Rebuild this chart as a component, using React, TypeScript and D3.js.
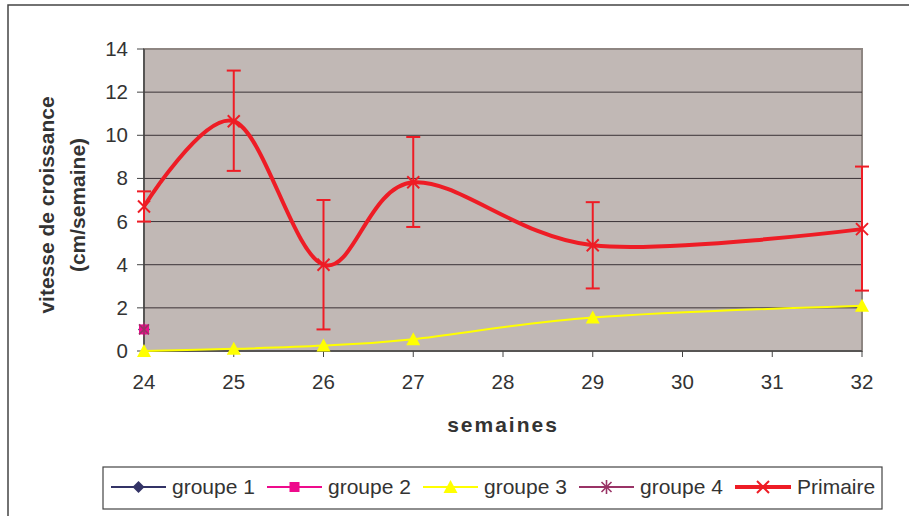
import React from "react";
import * as d3 from "d3";

const weekTicks = [24, 25, 26, 27, 28, 29, 30, 31, 32];
const yTicks = [0, 2, 4, 6, 8, 10, 12, 14];
const dataWeeks = [24, 25, 26, 27, 29, 32];
const primaire = [6.7, 10.65, 4.0, 7.82, 4.9, 5.65];
const errLow = [6.0, 8.35, 1.0, 5.75, 2.9, 2.8];
const errHigh = [7.4, 13.0, 7.0, 9.92, 6.9, 8.55];
const groupe3 = [0, 0.1, 0.25, 0.55, 1.55, 2.1];
const groupe1 = [1.0];
const groupe2 = [1.0];
const groupe4 = [1.0];
const legendLabels = ["groupe 1", "groupe 2", "groupe 3", "groupe 4", "Primaire"];

const W = 909;
const H = 516;
const PL = 144, PR = 862, PT = 49, PB = 351;
const TXT = "#333333";
const FONT = "'Liberation Sans', Arial, sans-serif";
const RED = "#ee1c25";
const YEL = "#ffff00";
const NAVY = "#333366";
const MAG = "#ee0a8c";
const PUR = "#993366";

function Marker({ kind, x, y }: { kind: string; x: number; y: number }) {
  if (kind === "diamond")
    return <path d={`M${x},${y - 6}L${x + 6},${y}L${x},${y + 6}L${x - 6},${y}Z`} fill={NAVY} />;
  if (kind === "square")
    return <rect x={x - 5} y={y - 5} width={10} height={10} fill={MAG} />;
  if (kind === "triangle")
    return <path d={`M${x},${y - 7}L${x + 7},${y + 6}L${x - 7},${y + 6}Z`} fill={YEL} />;
  if (kind === "star")
    return (
      <g stroke={PUR} strokeWidth={1.6}>
        <line x1={x - 5} y1={y - 5} x2={x + 5} y2={y + 5} />
        <line x1={x - 5} y1={y + 5} x2={x + 5} y2={y - 5} />
        <line x1={x} y1={y - 7} x2={x} y2={y + 7} />
      </g>
    );
  return (
    <g stroke={RED} strokeWidth={2}>
      <line x1={x - 6} y1={y - 6} x2={x + 6} y2={y + 6} />
      <line x1={x - 6} y1={y + 6} x2={x + 6} y2={y - 6} />
    </g>
  );
}

export default function App() {
  const x = d3.scaleLinear().domain([24, 32]).range([PL, PR]);
  const y = d3.scaleLinear().domain([0, 14]).range([PB, PT]);
  const line = d3
    .line<[number, number]>()
    .x((d) => x(d[0]))
    .y((d) => y(d[1]))
    .curve(d3.curveCardinal.tension(0));
  const primPts: [number, number][] = dataWeeks.map((w, i) => [w, primaire[i]]);
  const g3Pts: [number, number][] = dataWeeks.map((w, i) => [w, groupe3[i]]);

  const legendItems = [
    { lx1: 111, lx2: 166, tx: 172, color: NAVY, kind: "diamond", sw: 2 },
    { lx1: 267, lx2: 322, tx: 328, color: MAG, kind: "square", sw: 2 },
    { lx1: 423, lx2: 478, tx: 484, color: YEL, kind: "triangle", sw: 2 },
    { lx1: 579, lx2: 634, tx: 640, color: PUR, kind: "star", sw: 2 },
    { lx1: 735, lx2: 791, tx: 797, color: RED, kind: "x", sw: 4 },
  ];
  const LY = 487;

  return (
    <svg
      width={W}
      height={H}
      style={{ position: "absolute", left: 0, top: 0, background: "#fff" }}
      fontFamily={FONT}
    >
      {/* outer chart border */}
      <rect x={8} y={5} width={W + 10} height={H + 10} fill="none" stroke="#444" strokeWidth={1.5} />

      {/* plot area */}
      <rect x={PL} y={PT} width={PR - PL} height={PB - PT} fill="#c1b8b5" stroke="#8e8682" strokeWidth={2} />
      {yTicks.filter((t) => t > 0 && t < 14).map((t) => (
        <line key={t} x1={PL} x2={PR} y1={y(t)} y2={y(t)} stroke="#3a3236" strokeWidth={1} />
      ))}
      {/* axes */}
      <line x1={PL} x2={PL} y1={PT} y2={PB} stroke="#444" strokeWidth={1.5} />
      <line x1={PL} x2={PR} y1={PB} y2={PB} stroke="#444" strokeWidth={1.5} />
      {yTicks.map((t) => (
        <g key={t}>
          <line x1={PL - 7} x2={PL} y1={y(t)} y2={y(t)} stroke="#444" strokeWidth={1} />
          <text x={128} y={y(t) + 7} textAnchor="end" fontSize={20.5} fill={TXT}>
            {t}
          </text>
        </g>
      ))}
      {weekTicks.map((w) => (
        <g key={w}>
          <line x1={x(w)} x2={x(w)} y1={PB} y2={PB + 6} stroke="#444" strokeWidth={1} />
          <text x={x(w)} y={389} textAnchor="middle" fontSize={20.5} fill={TXT}>
            {w}
          </text>
        </g>
      ))}

      {/* axis titles */}
      <text x={503} y={432} textAnchor="middle" fontSize={21} fontWeight="bold" letterSpacing={2} fill={TXT}>
        semaines
      </text>
      <g transform="translate(0,205)">
        <text transform="translate(54,0) rotate(-90)" textAnchor="middle" fontSize={21} fontWeight="bold" fill={TXT}>
          vitesse de croissance
        </text>
        <text transform="translate(85,0) rotate(-90)" textAnchor="middle" fontSize={21} fontWeight="bold" fill={TXT}>
          (cm/semaine)
        </text>
      </g>

      {/* groupe 3 */}
      <path d={line(g3Pts) || ""} fill="none" stroke={YEL} strokeWidth={2} />
      {g3Pts.map((p, i) => (
        <Marker key={i} kind="triangle" x={x(p[0])} y={y(p[1])} />
      ))}

      {/* primaire error bars */}
      {dataWeeks.map((w, i) => (
        <g key={w} stroke={RED} strokeWidth={2}>
          <line x1={x(w)} x2={x(w)} y1={y(errLow[i])} y2={y(errHigh[i])} />
          <line x1={x(w) - 7} x2={x(w) + 7} y1={y(errLow[i])} y2={y(errLow[i])} />
          <line x1={x(w) - 7} x2={x(w) + 7} y1={y(errHigh[i])} y2={y(errHigh[i])} />
        </g>
      ))}
      <path d={line(primPts) || ""} fill="none" stroke={RED} strokeWidth={4} strokeLinejoin="round" />
      {primPts.map((p, i) => (
        <Marker key={i} kind="x" x={x(p[0])} y={y(p[1])} />
      ))}

      {/* groupes 1, 2, 4 single points */}
      {groupe1.map((v, i) => (
        <Marker key={"g1" + i} kind="diamond" x={x(dataWeeks[i])} y={y(v)} />
      ))}
      {groupe2.map((v, i) => (
        <Marker key={"g2" + i} kind="square" x={x(dataWeeks[i])} y={y(v)} />
      ))}
      {groupe4.map((v, i) => (
        <Marker key={"g4" + i} kind="star" x={x(dataWeeks[i])} y={y(v)} />
      ))}

      {/* legend */}
      <rect x={103} y={467} width={779} height={42} fill="#fff" stroke="#444" strokeWidth={1.2} />
      {legendItems.map((it, i) => (
        <g key={i}>
          <line x1={it.lx1} x2={it.lx2} y1={LY} y2={LY} stroke={it.color} strokeWidth={it.sw} />
          <Marker kind={it.kind} x={(it.lx1 + it.lx2) / 2} y={LY} />
          <text x={it.tx} y={LY + 7} fontSize={21} fill={TXT}>
            {legendLabels[i]}
          </text>
        </g>
      ))}
    </svg>
  );
}
